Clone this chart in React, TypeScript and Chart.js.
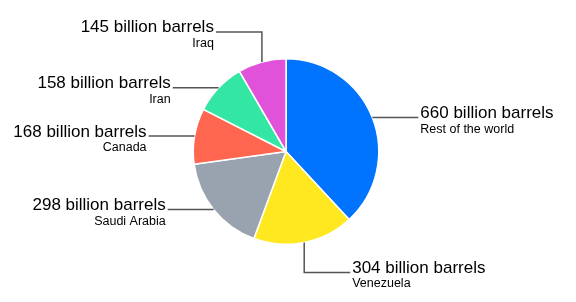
import React, { useEffect, useRef } from "react";
import { Chart, registerables } from "chart.js";

Chart.register(...registerables);

const categories = ["Rest of the world", "Venezuela", "Saudi Arabia", "Canada", "Iran", "Iraq"];
const reserves = [660, 304, 298, 168, 158, 145];
const valueLabels = reserves.map((v) => `${v} billion barrels`);
const colors = ["#0073FF", "#FFE81F", "#99A3B0", "#FF6650", "#33E6A3", "#E052D9"];

const labelPlugin = {
  id: "leaderLabels",
  afterDatasetsDraw(chart: any) {
    const ctx = chart.ctx;
    const meta = chart.getDatasetMeta(0);
    ctx.save();
    meta.data.forEach((arc: any, i: number) => {
      const { x, y, startAngle, endAngle, outerRadius } = arc.getProps(
        ["x", "y", "startAngle", "endAngle", "outerRadius"],
        true
      );
      const mid = (startAngle + endAngle) / 2;
      const c = Math.cos(mid);
      const s = Math.sin(mid);
      const px = x + outerRadius * c;
      const py = y + outerRadius * s;
      const dir = c >= 0 ? 1 : -1;
      const hLen = 46;
      const vLen = 30;
      ctx.strokeStyle = "#555555";
      ctx.lineWidth = 1.5;
      ctx.beginPath();
      ctx.moveTo(px, py);
      let ex: number, ey: number;
      if (Math.abs(s) > 0.95) {
        const vy = py + (s > 0 ? vLen : -vLen);
        ctx.lineTo(px, vy);
        ex = px + dir * hLen;
        ey = vy;
        ctx.lineTo(ex, ey);
      } else {
        ex = px + dir * hLen;
        ey = py;
        ctx.lineTo(ex, ey);
      }
      ctx.stroke();
      const tx = ex + dir * 2;
      ctx.textAlign = dir > 0 ? "left" : "right";
      ctx.textBaseline = "alphabetic";
      ctx.fillStyle = "#000000";
      ctx.font = "17px 'Liberation Sans', Arial, sans-serif";
      ctx.fillText(valueLabels[i], tx, ey + 0.5);
      ctx.font = "12.5px 'Liberation Sans', Arial, sans-serif";
      ctx.fillText(categories[i], tx, ey + 15);
    });
    ctx.restore();
  },
};

export default function App() {
  const ref = useRef<HTMLCanvasElement>(null);
  useEffect(() => {
    if (!ref.current) return;
    const chart = new Chart(ref.current, {
      type: "pie",
      data: {
        labels: categories,
        datasets: [
          {
            data: reserves,
            backgroundColor: colors,
            borderColor: "#ffffff",
            borderWidth: 1.5,
            hoverOffset: 0,
          },
        ],
      },
      options: {
        responsive: false,
        animation: false,
        layout: { padding: { left: 192, right: 196, top: 58, bottom: 57 } },
        plugins: {
          legend: { display: false },
          tooltip: { enabled: false },
        },
      },
      plugins: [labelPlugin],
    });
    return () => chart.destroy();
  }, []);
  return (
    <div style={{ position: "fixed", left: 0, top: 0, width: 576, height: 302, background: "#fff" }}>
      <canvas ref={ref} width={576} height={302} style={{ width: 576, height: 302 }} />
    </div>
  );
}
